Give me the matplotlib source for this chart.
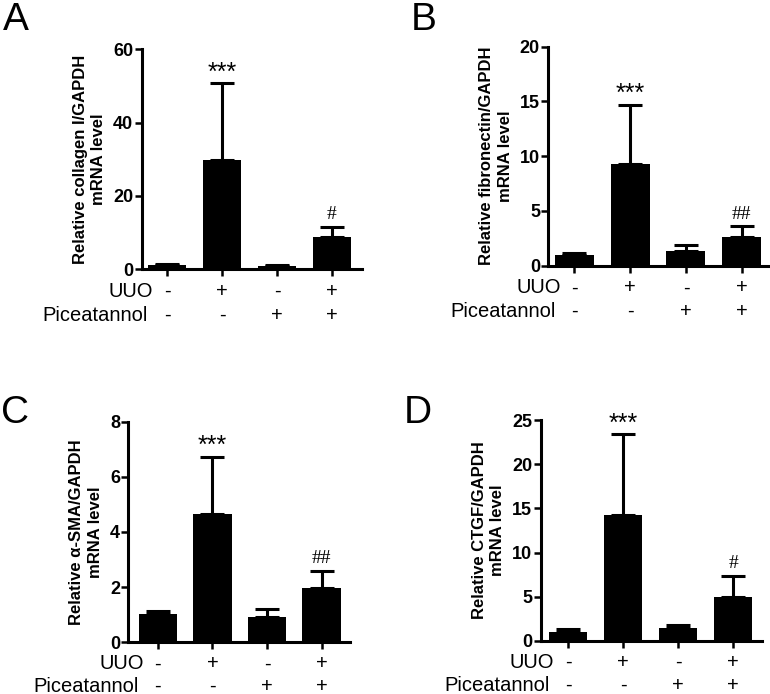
import matplotlib
matplotlib.use("Agg")
import matplotlib.pyplot as plt
import numpy as np

plt.rcParams['font.family'] = ['Liberation Sans', 'DejaVu Sans']

# ---------------- data ----------------
uuo_labels = ['-', '+', '-', '+']
pic_labels = ['-', '-', '+', '+']

collagen_mean = [1.1, 29.8, 0.8, 8.7]
collagen_err = [0.3, 20.9, 0.3, 2.9]
collagen_sig = ['', '***', '', '#']

fibronectin_mean = [1.0, 9.3, 1.35, 2.6]
fibronectin_err = [0.2, 5.4, 0.5, 1.0]
fibronectin_sig = ['', '***', '', '##']

asma_mean = [1.03, 4.65, 0.93, 1.96]
asma_err = [0.12, 2.08, 0.28, 0.63]
asma_sig = ['', '***', '', '##']

ctgf_mean = [1.02, 14.27, 1.48, 5.0]
ctgf_err = [0.27, 9.16, 0.3, 2.35]
ctgf_sig = ['', '***', '', '#']

W, H = 770, 694
fig = plt.figure(figsize=(W / 100, H / 100), dpi=100)


def px_axes(left, right, top, bottom):
    return fig.add_axes([left / W, 1 - bottom / H, (right - left) / W, (bottom - top) / H])


panels = [
    dict(box=(141.7, 361.7, 49.3, 269.3), xlim=(-0.46, 3.54), ylim=60, yt=[0, 20, 40, 60],
         mean=collagen_mean, err=collagen_err, sig=collagen_sig,
         ylabel='Relative collagen I/GAPDH\nmRNA level', letter='A', lxy=(3, 30), rows=(16, 33)),
    dict(box=(548.3, 769, 46.7, 265.7), xlim=(-0.47, 3.49), ylim=20, yt=[0, 5, 10, 15, 20],
         mean=fibronectin_mean, err=fibronectin_err, sig=fibronectin_sig,
         ylabel='Relative fibronectin/GAPDH\nmRNA level', letter='B', lxy=(411, 30), rows=(16, 33)),
    dict(box=(128.3, 350, 421.7, 642.3), xlim=(-0.54, 3.52), ylim=8, yt=[0, 2, 4, 6, 8],
         mean=asma_mean, err=asma_err, sig=asma_sig,
         ylabel='Relative \u03b1-SMA/GAPDH\nmRNA level', letter='C', lxy=(1, 423), rows=(15.5, 32)),
    dict(box=(540.7, 761.7, 420.3, 640.7), xlim=(-0.50, 3.52), ylim=25, yt=[0, 5, 10, 15, 20, 25],
         mean=ctgf_mean, err=ctgf_err, sig=ctgf_sig,
         ylabel='Relative CTGF/GAPDH\nmRNA level', letter='D', lxy=(404, 423), rows=(15.5, 32)),
]

x = np.arange(4)
for p in panels:
    ax = px_axes(*p['box'])
    ax.bar(x, p['mean'], width=0.7, color='black', zorder=2)
    ax.errorbar(x, p['mean'], yerr=[np.zeros(4), p['err']], fmt='none', ecolor='black',
                elinewidth=2.2, capsize=8.5, capthick=2.2, zorder=1, clip_on=False)
    ax.set_xlim(*p['xlim'])
    ax.set_ylim(0, p['ylim'])
    ax.set_yticks(p['yt'])
    ax.set_yticklabels([str(v) for v in p['yt']], fontweight='bold', fontsize=13)
    ax.set_xticks(x)
    ax.set_xticklabels([])
    for s in ['top', 'right']:
        ax.spines[s].set_visible(False)
    for s in ['left', 'bottom']:
        ax.spines[s].set_linewidth(2.2)
    ax.tick_params(axis='both', direction='out', length=5, width=1.8, pad=1)
    ax.set_ylabel(p['ylabel'], fontsize=12, fontweight='bold', labelpad=5, linespacing=1.3)
    # significance marks
    for xi, m, e, s in zip(x, p['mean'], p['err'], p['sig']):
        if not s:
            continue
        if '*' in s:
            ax.annotate(s, xy=(xi, m + e), xytext=(0, -1), textcoords='offset points',
                        ha='center', va='bottom', fontsize=18, annotation_clip=False)
        else:
            ax.annotate(s, xy=(xi, m + e), xytext=(0, 2.5), textcoords='offset points',
                        ha='center', va='bottom', fontsize=14,
                        family=['Liberation Serif', 'DejaVu Serif'], annotation_clip=False)
    r1, r2 = p['rows']
    # row labels under x axis
    for xi, u, pc in zip(x, uuo_labels, pic_labels):
        ax.annotate(u, xy=(xi, 0), xycoords=('data', 'axes fraction'), xytext=(0, -r1),
                    textcoords='offset points', ha='center', va='center', fontsize=14.5,
                    annotation_clip=False)
        ax.annotate(pc, xy=(xi, 0), xycoords=('data', 'axes fraction'), xytext=(0, -r2),
                    textcoords='offset points', ha='center', va='center', fontsize=14.5,
                    annotation_clip=False)
    ax.annotate('UUO', xy=(0, 0), xycoords=('data', 'axes fraction'), xytext=(-10, -r1),
                textcoords='offset points', ha='right', va='center', fontsize=14.5,
                annotation_clip=False)
    ax.annotate('Piceatannol', xy=(0, 0), xycoords=('data', 'axes fraction'), xytext=(-13.5, -r2),
                textcoords='offset points', ha='right', va='center', fontsize=14.5,
                annotation_clip=False)
    lx, ly = p['lxy']
    fig.text(lx / W, 1 - ly / H, p['letter'], fontsize=28, ha='left', va='baseline')

fig.savefig('out.png', dpi=100)
